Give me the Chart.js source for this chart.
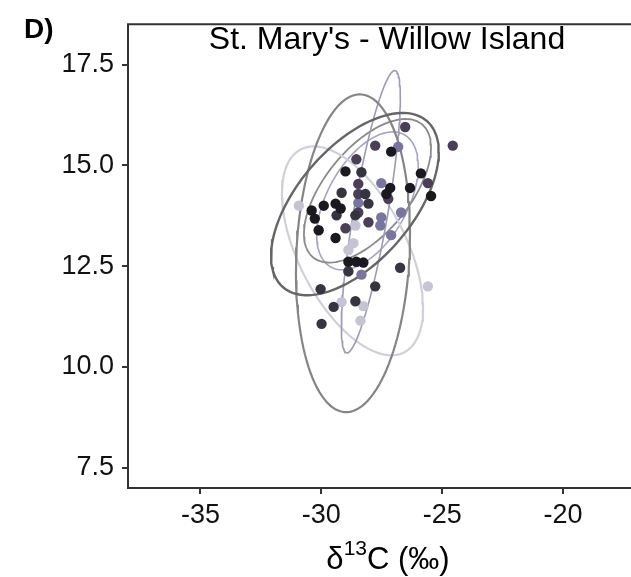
<!DOCTYPE html>
<html>
<head>
<meta charset="utf-8">
<script src="https://cdn.jsdelivr.net/npm/chart.js@4.4.1/dist/chart.umd.min.js"></script>
<style>
  html, body { margin: 0; padding: 0; background: #fff; }
  #wrap { width: 631px; height: 577px; }
</style>
</head>
<body>
<div id="wrap"><canvas id="sea_chart" width="631" height="577"></canvas></div>
<script>
// tick labels
const xTicks = [-35, -30, -25, -20];
const yTicks = [7.5, 10.0, 12.5, 15.0, 17.5];

// samples (d13C, d15N) per group
const g1_x = [-27.11, -29.00, -25.88, -25.46, -26.33, -27.15, -27.31, -30.40, -29.90, -29.41, -29.20, -30.27, -30.11, -29.41, -28.88, -28.55, -28.26];
const g1_y = [15.34, 14.85, 14.80, 14.24, 14.44, 14.44, 14.29, 13.88, 14.00, 14.05, 13.93, 13.68, 13.39, 13.20, 12.61, 12.61, 12.59];

const g2_x = [-28.34, -29.16, -28.18, -28.05, -29.37, -28.59, -28.88, -26.74, -27.77, -30.03, -28.59, -29.49, -29.99];
const g2_y = [14.83, 14.32, 14.29, 14.05, 13.76, 13.76, 12.37, 12.46, 12.00, 11.93, 11.63, 11.49, 11.07];

const g3_x = [-26.53, -24.56, -27.77, -28.55, -25.59, -27.23, -28.47, -28.05, -29.00, -28.47, -28.47];
const g3_y = [15.95, 15.49, 15.49, 15.15, 14.56, 14.17, 13.83, 13.59, 13.44, 14.54, 14.29];

const g4_x = [-26.82, -27.52, -27.52, -27.56, -26.70, -27.11, -28.34, -28.47];
const g4_y = [15.46, 14.56, 13.71, 13.51, 13.83, 13.27, 12.29, 14.07];

const g5_x = [-30.93, -28.59, -28.67, -28.88, -25.59, -29.16, -28.26, -28.38];
const g5_y = [14.00, 13.51, 13.07, 12.90, 12.00, 11.61, 11.51, 11.15];

// ellipses: centre, half extents in x and y, correlation
const ell_cx  = [-28.61, -28.69, -27.95, -28.71, -28.09, -28.09];
const ell_cy  = [14.04, 12.82, 13.85, 12.88, 14.37, 14.12];
const ell_sx  = [3.47, 2.36, 1.22, 2.92, 2.63, 2.10];
const ell_sy  = [2.26, 3.94, 3.50, 2.59, 1.78, 1.71];
const ell_rho = [0.57, 0.12, 0.81, -0.55, 0.60, 0.50];

const pointColors = ['#1a191f', '#363441', '#4b3f57', '#7875a0', '#c4c4d4'];
const ellColors = ['#666666', '#858585', '#9c9ab6', '#d0d0da', '#8a8a8a', '#a6a4c2'];
const ellWidths = [2.4, 2.2, 1.6, 2.2, 1.8, 1.6];

function toPoints(xs, ys) {
  return xs.map((x, i) => ({x: x, y: ys[i]}));
}

function ellipsePoints(k) {
  const pts = [];
  const n = 120;
  const q = Math.sqrt(1 - ell_rho[k] * ell_rho[k]);
  for (let i = 0; i <= n; i++) {
    const t = 2 * Math.PI * i / n;
    pts.push({
      x: ell_cx[k] + ell_sx[k] * Math.cos(t),
      y: ell_cy[k] + ell_sy[k] * (ell_rho[k] * Math.cos(t) + q * Math.sin(t))
    });
  }
  return pts;
}

const groupX = [g1_x, g2_x, g3_x, g4_x, g5_x];
const groupY = [g1_y, g2_y, g3_y, g4_y, g5_y];

let datasets = [];
groupX.forEach((xs, i) => {
  datasets.push({
    data: toPoints(xs, groupY[i]),
    backgroundColor: pointColors[i],
    borderColor: pointColors[i],
    borderWidth: 0,
    pointRadius: 5.2,
    pointStyle: 'circle',
    showLine: false
  });
});
ell_cx.forEach((c, k) => {
  datasets.push({
    data: ellipsePoints(k),
    borderColor: ellColors[k],
    borderWidth: ellWidths[k],
    pointRadius: 0,
    showLine: true,
    fill: false,
    tension: 0
  });
});

const decorations = {
  id: 'decorations',
  afterDraw(chart) {
    const ctx = chart.ctx;
    const a = chart.chartArea;
    ctx.save();
    // frame (right side runs off the picture)
    ctx.strokeStyle = '#333333';
    ctx.lineWidth = 2;
    ctx.beginPath();
    ctx.moveTo(chart.width + 2, a.top);
    ctx.lineTo(a.left, a.top);
    ctx.lineTo(a.left, a.bottom);
    ctx.lineTo(chart.width + 2, a.bottom);
    ctx.stroke();

    ctx.fillStyle = '#000000';
    ctx.textBaseline = 'alphabetic';
    // panel title inside the plot
    ctx.font = '32px "Liberation Sans", Arial, sans-serif';
    ctx.textAlign = 'center';
    ctx.fillText("St. Mary's - Willow Island", 387, 49);

    // panel letter
    ctx.font = 'bold 28px "Liberation Sans", Arial, sans-serif';
    ctx.textAlign = 'left';
    ctx.fillText('D)', 24, 38);

    // x axis title with superscript
    const big = '31px "Liberation Sans", Arial, sans-serif';
    const small = '21px "Liberation Sans", Arial, sans-serif';
    ctx.font = big;
    const w1 = ctx.measureText('\u03b4').width;
    const w3 = ctx.measureText('C (\u2030)').width;
    ctx.font = small;
    const w2 = ctx.measureText('13').width;
    let x0 = 388 - (w1 + w2 + w3) / 2;
    const base = 569;
    ctx.font = big;
    ctx.fillText('\u03b4', x0, base);
    ctx.font = small;
    ctx.fillText('13', x0 + w1, base - 14);
    ctx.font = big;
    ctx.fillText('C (\u2030)', x0 + w1 + w2, base);
    ctx.restore();
  }
};

const tickFont = {family: '"Liberation Sans", Arial, sans-serif', size: 27};

let ctx = document.getElementById('sea_chart').getContext('2d');
let sea_chart = new Chart(ctx, {
  type: 'scatter',
  data: {datasets: datasets},
  options: {
    responsive: false,
    animation: false,
    layout: {padding: {top: 14, right: 0, left: 0, bottom: 0}},
    plugins: {
      legend: {display: false},
      tooltip: {enabled: false},
      title: {display: false}
    },
    scales: {
      x: {
        min: -38,
        max: -17.4,
        afterBuildTicks: (s) => { s.ticks = xTicks.map(v => ({value: v})); },
        afterFit: (s) => { s.height = 89; },
        ticks: {
          font: tickFont,
          color: '#111111',
          padding: 5,
          maxRotation: 0,
          callback: (v) => String(v)
        },
        grid: {display: true, drawOnChartArea: false, drawTicks: true, tickLength: 6, color: '#333333', lineWidth: 2},
        border: {display: false}
      },
      y: {
        min: 7,
        max: 18.5,
        afterBuildTicks: (s) => { s.ticks = yTicks.map(v => ({value: v})); },
        afterFit: (s) => { s.width = 128; },
        ticks: {
          font: tickFont,
          color: '#111111',
          padding: 8,
          callback: (v) => Number(v).toFixed(1)
        },
        grid: {display: true, drawOnChartArea: false, drawTicks: true, tickLength: 6, color: '#333333', lineWidth: 2},
        border: {display: false}
      }
    }
  },
  plugins: [decorations]
});
</script>
</body>
</html>
